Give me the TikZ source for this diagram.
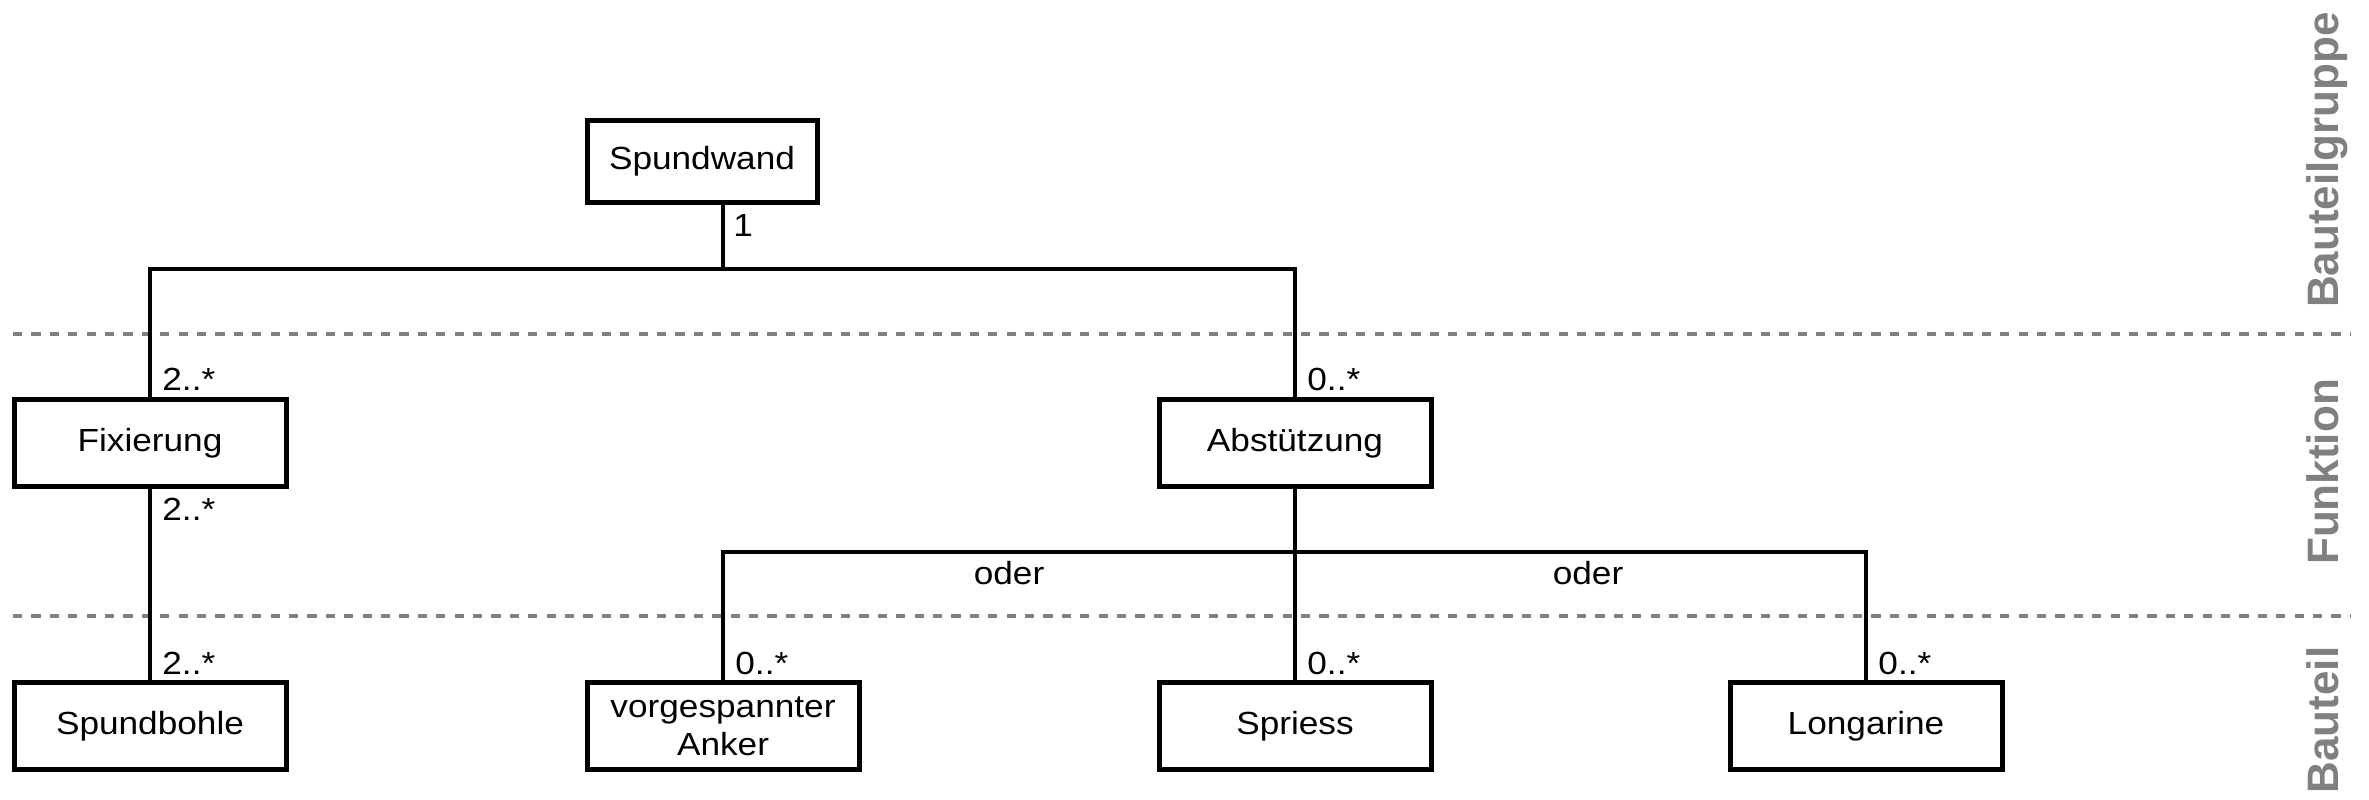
\documentclass[tikz,border=0pt]{standalone}
\usepackage{fontspec}
\setmainfont[FakeStretch=1.1]{Liberation Sans}
\newfontfamily\layerfont{Liberation Sans}
\definecolor{layergray}{HTML}{808080}
\begin{document}
\begin{tikzpicture}[x=0.5pt,y=-0.5pt,
  box/.style={draw, line width=2.5pt, minimum width=136pt, minimum height=43.5pt,
    inner sep=0pt, align=center, font=\fontsize{16}{19}\selectfont},
  conn/.style={line width=2.25pt},
  mult/.style={inner sep=0pt, font=\fontsize{16}{19}\selectfont},
  sep/.style={draw=layergray, line width=2pt, dash pattern=on 4.6pt off 4.6pt},
  layer/.style={rotate=90, anchor=base, inner sep=0pt, text=layergray,
    font=\layerfont\fontsize{22}{26}\selectfont\bfseries}
]
\useasboundingbox (0,0) rectangle (2369,799);

% layer separators
\coordinate (s1a) at (13,334); \coordinate (s1b) at (2350,334);
\coordinate (s2a) at (13,616); \coordinate (s2b) at (2350,616);
\draw[sep] (s1a) -- (s1b);
\draw[sep] (s2a) -- (s2b);

% layer labels
\node[layer] (lg) at (2338,160) {Bauteilgruppe};
\node[layer] (lf) at (2338,472) {Funktion};
\node[layer] (lb) at (2338,720) {Bauteil};

% boxes
\node[box, minimum width=115pt, minimum height=41pt] (spw) at (702,161) {Spundwand};
\node[box] (fix) at (150,443) {Fixierung};
\node[box] (abs) at (1295,443) {Abstützung};
\node[box] (sb)  at (150,726) {Spundbohle};
\node[box] (ank) at (723,726) {vorgespannter\\Anker};
\node[box] (spr) at (1295,726) {Spriess};
\node[box] (lon) at (1866,726) {Longarine};

% junctions
\coordinate (j1) at (723,269);
\coordinate (j2) at (1295,552);

% connectors
\draw[conn] (spw.south -| j1) -- (j1);
\draw[conn] (fix.north) |- (j1) -| (abs.north);
\draw[conn] (fix.south) -- (sb.north);
\draw[conn] (abs.south) -- (spr.north);
\draw[conn] (ank.north) |- (j2) -| (lon.north);

% multiplicities
\node[mult, anchor=north west] (m1) at (733,214) {1};
\node[mult, anchor=base west] (m2) at (162,390) {2..*};
\node[mult, anchor=base west] (m3) at (1307,390) {0..*};
\node[mult, anchor=north west] (m4) at (162,498) {2..*};
\node[mult, anchor=base west] (m5) at (162,674) {2..*};
\node[mult, anchor=base west] (m6) at (735,674) {0..*};
\node[mult, anchor=base west] (m7) at (1307,674) {0..*};
\node[mult, anchor=base west] (m8) at (1878,674) {0..*};

% "oder" labels
\node[mult] (o1) at (1009,573) {oder};
\node[mult] (o2) at (1588,573) {oder};
\end{tikzpicture}
\end{document}
